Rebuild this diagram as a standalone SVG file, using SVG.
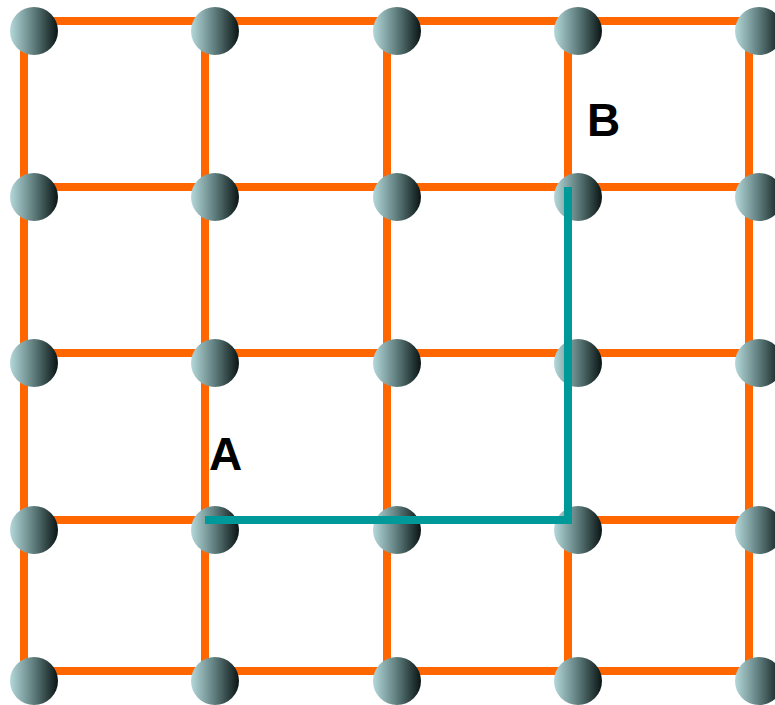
<svg xmlns="http://www.w3.org/2000/svg" width="775" height="705" viewBox="0 0 775 705">
<defs>
<linearGradient id="ball" x1="0" y1="0" x2="1" y2="0">
<stop offset="0" stop-color="#b4d8da"/>
<stop offset="0.5" stop-color="#5e7c7c"/>
<stop offset="1" stop-color="#0a1414"/>
</linearGradient>
<style>
.grid{stroke:#ff6600;stroke-width:8;fill:none}
.b{fill:url(#ball)}
.path{stroke:#009999;stroke-width:8;fill:none;stroke-linejoin:miter}
.lbl{font-family:"Liberation Sans",Arial,sans-serif;font-weight:bold;font-size:46px;fill:#000}
</style>
</defs>
<g id="connectors" class="grid">
<line x1="24" y1="21" x2="24" y2="671"/>
<line x1="205" y1="21" x2="205" y2="671"/>
<line x1="387" y1="21" x2="387" y2="671"/>
<line x1="568" y1="21" x2="568" y2="671"/>
<line x1="749" y1="21" x2="749" y2="671"/>
<line x1="24" y1="21" x2="749" y2="21"/>
<line x1="24" y1="187" x2="749" y2="187"/>
<line x1="24" y1="353" x2="749" y2="353"/>
<line x1="24" y1="520" x2="749" y2="520"/>
<line x1="24" y1="671" x2="749" y2="671"/>
</g>
<g id="nodes" class="b">
<g id="n00"><circle cx="34" cy="31" r="24"/></g>
<g id="n01"><circle cx="215" cy="31" r="24"/></g>
<g id="n02"><circle cx="397" cy="31" r="24"/></g>
<g id="n03"><circle cx="578" cy="31" r="24"/></g>
<g id="n04"><circle cx="759" cy="31" r="24"/></g>
<g id="n10"><circle cx="34" cy="197" r="24"/></g>
<g id="n11"><circle cx="215" cy="197" r="24"/></g>
<g id="n12"><circle cx="397" cy="197" r="24"/></g>
<g id="n13"><circle cx="578" cy="197" r="24"/></g>
<g id="n14"><circle cx="759" cy="197" r="24"/></g>
<g id="n20"><circle cx="34" cy="363" r="24"/></g>
<g id="n21"><circle cx="215" cy="363" r="24"/></g>
<g id="n22"><circle cx="397" cy="363" r="24"/></g>
<g id="n23"><circle cx="578" cy="363" r="24"/></g>
<g id="n24"><circle cx="759" cy="363" r="24"/></g>
<g id="n30"><circle cx="34" cy="530" r="24"/></g>
<g id="n31"><circle cx="215" cy="530" r="24"/></g>
<g id="n32"><circle cx="397" cy="530" r="24"/></g>
<g id="n33"><circle cx="578" cy="530" r="24"/></g>
<g id="n34"><circle cx="759" cy="530" r="24"/></g>
<g id="n40"><circle cx="34" cy="681" r="24"/></g>
<g id="n41"><circle cx="215" cy="681" r="24"/></g>
<g id="n42"><circle cx="397" cy="681" r="24"/></g>
<g id="n43"><circle cx="578" cy="681" r="24"/></g>
<g id="n44"><circle cx="759" cy="681" r="24"/></g>
</g>
<g id="route">
<path class="path" d="M205,520 H568 V187"/>
</g>
<g id="labels">
<text class="lbl" x="209" y="470">A</text>
<text class="lbl" x="587" y="136">B</text>
</g>
</svg>
